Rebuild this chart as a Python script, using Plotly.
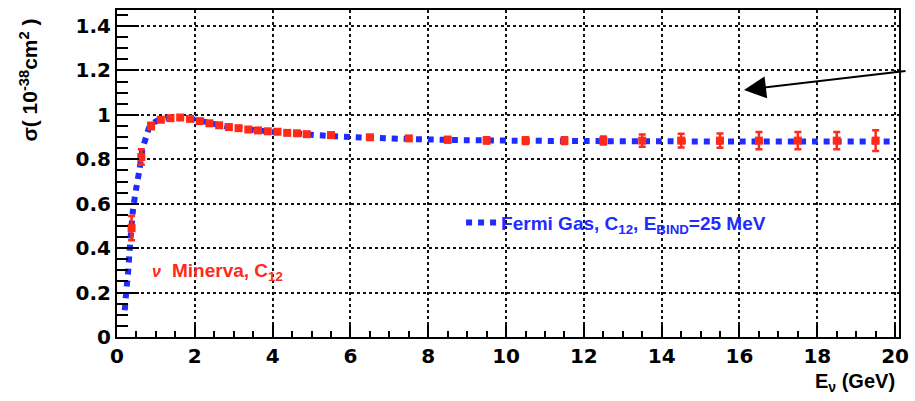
import plotly.graph_objects as go

# Fermi gas model curve (C12, E_bind = 25 MeV)
fermi_e = [0.2, 0.24, 0.28, 0.32, 0.36, 0.41, 0.49, 0.58, 0.66, 0.75, 0.83, 0.95,
           1.05, 1.3, 1.6, 1.9, 2.2, 2.6, 3.0, 3.5, 4.0, 4.5, 5.0, 6.0, 7.0, 8.0,
           9.0, 10.0, 12.0, 14.0, 16.0, 18.0, 20.0]
fermi_sigma = [0.12, 0.21, 0.28, 0.38, 0.47, 0.57, 0.665, 0.755, 0.85, 0.90, 0.944, 0.965,
               0.975, 0.986, 0.988, 0.982, 0.972, 0.955, 0.942, 0.932, 0.924, 0.917, 0.91,
               0.90, 0.894, 0.889, 0.886, 0.884, 0.882, 0.881, 0.88, 0.88, 0.88]

# Minerva C12 points with statistical errors
minerva_e = [0.375, 0.625, 0.875, 1.125, 1.375, 1.625, 1.875, 2.125, 2.375, 2.625,
             2.875, 3.125, 3.375, 3.625, 3.875, 4.125, 4.375, 4.625, 4.875,
             5.5, 6.5, 7.5, 8.5, 9.5, 10.5, 11.5, 12.5, 13.5, 14.5, 15.5, 16.5,
             17.5, 18.5, 19.5]
minerva_sigma = [0.49, 0.81, 0.95, 0.978, 0.985, 0.988, 0.982, 0.972, 0.962, 0.953,
                 0.945, 0.94, 0.934, 0.93, 0.926, 0.924, 0.919, 0.917, 0.913,
                 0.909, 0.899, 0.894, 0.888, 0.885, 0.884, 0.884, 0.884, 0.884, 0.884,
                 0.884, 0.884, 0.884, 0.884, 0.884]
minerva_err = [0.055, 0.035, 0.015, 0.008, 0.008, 0.008, 0.008, 0.008, 0.008, 0.008,
               0.008, 0.008, 0.008, 0.008, 0.008, 0.008, 0.008, 0.008, 0.008,
               0.008, 0.008, 0.01, 0.012, 0.014, 0.015, 0.015, 0.018, 0.028, 0.031,
               0.032, 0.039, 0.039, 0.039, 0.047]

x_ticks = [0, 2, 4, 6, 8, 10, 12, 14, 16, 18, 20]
y_ticks = [0, 0.2, 0.4, 0.6, 0.8, 1.0, 1.2, 1.4]

BLUE = "#1f2bff"
RED = "#ff2a18"
FONT = "Liberation Sans"

fig = go.Figure()

fig.add_trace(go.Scatter(
    x=fermi_e, y=fermi_sigma, mode="lines",
    line=dict(color=BLUE, width=6, dash="6px,6px", shape="spline", smoothing=0.6),
    name="Fermi Gas, C<sub>12</sub>, E<sub>BIND</sub>=25 MeV",
    showlegend=True,
))

fig.add_trace(go.Scatter(
    x=minerva_e, y=minerva_sigma, mode="markers",
    marker=dict(color=RED, symbol="square", size=8, line=dict(width=0)),
    error_y=dict(type="data", array=minerva_err, color=RED, thickness=2.5, width=3.5),
    name="Minerva, C<sub>12</sub>",
    showlegend=False,
))

axis_font = dict(family="DejaVu Sans", size=20, color="black", weight="bold")

fig.update_xaxes(
    range=[0, 20.1], tickmode="array", tickvals=x_ticks,
    ticks="inside", ticklen=12, tickwidth=1.5, tickcolor="black",
    minor=dict(dtick=0.5, ticks="inside", ticklen=6, tickwidth=1.5, tickcolor="black", showgrid=False),
    showgrid=True, gridcolor="#111", gridwidth=1.5, griddash="dot",
    showline=True, linecolor="black", linewidth=2, mirror=True,
    zeroline=False, tickfont=axis_font, ticklabeloverflow="allow",
)
fig.update_yaxes(
    range=[0, 1.472], tickmode="array", tickvals=y_ticks,
    ticks="inside", ticklen=22, tickwidth=1.5, tickcolor="black",
    minor=dict(dtick=0.05, ticks="inside", ticklen=11, tickwidth=1.5, tickcolor="black", showgrid=False),
    showgrid=True, gridcolor="#111", gridwidth=1.5, griddash="dot",
    showline=True, linecolor="black", linewidth=2, mirror=True,
    zeroline=False, tickfont=axis_font, ticklabeloverflow="allow",
)

fig.update_layout(
    width=915, height=401,
    margin=dict(l=117, r=6, t=10, b=64),
    paper_bgcolor="white", plot_bgcolor="white",
    font=dict(family=FONT, color="black"),
    legend=dict(
        x=0.44, y=0.35, xanchor="left", yanchor="middle",
        bgcolor="rgba(0,0,0,0)", borderwidth=0,
        font=dict(family=FONT, size=19, color=BLUE, weight="bold"),
        itemwidth=30,
    ),
    annotations=[
        dict(text="σ( 10<sup>-38</sup>cm<sup>2</sup> )", textangle=-90,
             xref="paper", yref="paper", x=-0.113, y=0.786,
             xanchor="center", yanchor="middle", showarrow=False,
             font=dict(family=FONT, size=21, color="black", weight="bold")),
        dict(text="E<sub>ν</sub> (GeV)",
             xref="paper", yref="paper", x=0.997, y=-0.14,
             xanchor="right", yanchor="middle", showarrow=False,
             font=dict(family=FONT, size=20, color="black", weight="bold")),
        dict(text="<i>ν</i>",
             xref="paper", yref="paper", x=0.05, y=0.2,
             xanchor="center", yanchor="middle", showarrow=False,
             font=dict(family=FONT, size=16, color=RED, weight="bold")),
        dict(text="Minerva, C<sub>12</sub>",
             xref="paper", yref="paper", x=0.068, y=0.2,
             xanchor="left", yanchor="middle", showarrow=False,
             font=dict(family=FONT, size=19, color=RED, weight="bold")),
        dict(text="", xref="paper", yref="paper", x=0.8018, y=0.7557,
             ax=163, ay=-19, axref="pixel", ayref="pixel",
             showarrow=True, arrowhead=2, arrowsize=2.2, arrowwidth=2,
             arrowcolor="black", standoff=0),
    ],
)

fig.write_html("out.html")
